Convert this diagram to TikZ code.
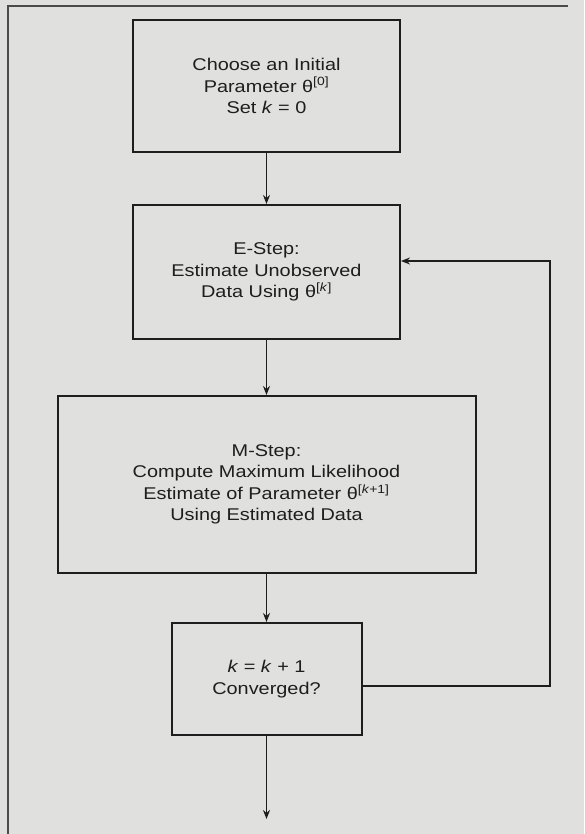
\documentclass[tikz,border=0pt]{standalone}
\usepackage{fontspec}
\setmainfont[FakeStretch=1.17]{Liberation Sans}
\usetikzlibrary{arrows.meta}
\definecolor{paper}{RGB}{224,224,222}
\definecolor{ink}{RGB}{30,30,30}
\tikzset{
  stepbox/.style={draw=ink, line width=2pt, inner sep=0pt, align=center,
    text=ink, font=\fontsize{17}{21.5}\selectfont},
  flow/.style={draw=ink, line width=1.6pt, -{Stealth[length=9pt,width=7pt]}},
}
\newcommand{\kk}{\textit{k}}
\begin{document}
\begin{tikzpicture}[x=1pt,y=-1pt]
\fill[paper] (0,0) rectangle (584,834);
\useasboundingbox (0,0) rectangle (584,834);
\draw[ink!80, line width=1.8pt] (568,6) -- (8,6) -- (8,834);

\node[stepbox, minimum width=267pt, minimum height=132pt] (init) at (266.5,86)
  {Choose an Initial\\Parameter θ\textsuperscript{[0]}\\Set \kk{} = 0};
\node[stepbox, minimum width=267pt, minimum height=134pt] (estep) at (266.5,272)
  {E-Step:\\Estimate Unobserved\\Data Using θ\textsuperscript{[\kk]}};
\node[stepbox, minimum width=418pt, minimum height=177pt] (mstep) at (266.5,484.5)
  {M-Step:\\Compute Maximum Likelihood\\Estimate of Parameter θ\textsuperscript{[\kk+1]}\\Using Estimated Data};
\node[stepbox, minimum width=190pt, minimum height=112pt] (conv) at (266.5,679)
  {\kk{} = \kk{} + 1\\Converged?};
\coordinate (out) at (266.5,819);
\coordinate (loopB) at (550,686);
\coordinate (loopT) at (550,261);

\draw[flow] (init) -- (estep);
\draw[flow] (estep) -- (mstep);
\draw[flow] (mstep) -- (conv);
\draw[flow] (conv) -- (out);
\draw[flow] (conv.east |- loopB) -- (loopB) -- (loopT) -- (estep.east |- loopT);
\end{tikzpicture}
\end{document}
